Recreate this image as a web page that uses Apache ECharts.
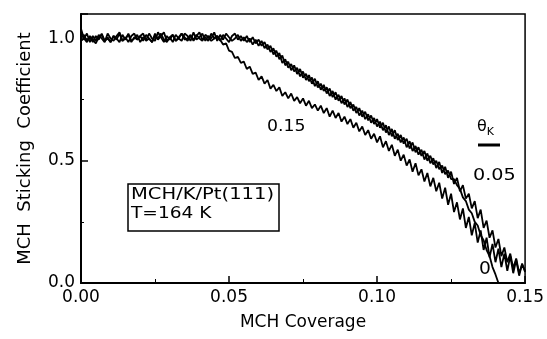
<!DOCTYPE html>
<html>
<head>
<meta charset="utf-8">
<script src="https://cdn.jsdelivr.net/npm/echarts@6/dist/echarts.min.js"></script>
<style>
html,body{margin:0;padding:0;background:#fff;}
#chart{width:547px;height:339px;}
</style>
</head>
<body>
<div id="chart"></div>
<script>
// MCH coverage sample points
const coverage = [
0.000,0.001,0.002,0.003,0.004,0.005,0.006,0.007,0.008,0.009,
0.010,0.011,0.012,0.013,0.014,0.015,0.016,0.017,0.018,0.019,
0.020,0.021,0.022,0.023,0.024,0.025,0.026,0.027,0.028,0.029,
0.030,0.031,0.032,0.033,0.034,0.035,0.036,0.037,0.038,0.039,
0.040,0.041,0.042,0.043,0.044,0.045,0.046,0.047,0.048,0.049,
0.050,0.051,0.052,0.053,0.054,0.055,0.056,0.057,0.058,0.059,
0.060,0.061,0.062,0.063,0.064,0.065,0.066,0.067,0.068,0.069,
0.070,0.071,0.072,0.073,0.074,0.075,0.076,0.077,0.078,0.079,
0.080,0.081,0.082,0.083,0.084,0.085,0.086,0.087,0.088,0.089,
0.090,0.091,0.092,0.093,0.094,0.095,0.096,0.097,0.098,0.099,
0.100,0.101,0.102,0.103,0.104,0.105,0.106,0.107,0.108,0.109,
0.110,0.111,0.112,0.113,0.114,0.115,0.116,0.117,0.118,0.119,
0.120,0.121,0.122,0.123,0.124,0.125,0.126,0.127,0.128,0.129,
0.130,0.131,0.132,0.133,0.134,0.135,0.136,0.137,0.138,0.139,
0.140,0.141,0.142,0.143,0.144,0.145,0.146,0.147,0.148,0.149,
0.150];

// theta_K = 0 (drops to zero at ~0.141)
const s_theta0 = [
1.0,1.015,0.99,1.005,0.985,1.01,0.995,1.02,0.99,1.005,
0.985,1.01,1.0,0.985,1.015,0.995,1.02,0.99,1.0,1.015,
0.985,1.005,0.995,1.02,1.0,0.99,1.025,1.005,0.985,1.01,
0.995,1.015,0.99,1.005,1.02,0.995,1.0,1.015,0.99,1.01,
1.025,0.995,1.005,0.99,1.02,1.0,1.01,0.99,1.015,1.0,
0.985,1.01,1.02,0.995,1.01,0.99,1.01,0.985,1.005,0.98,
0.995,0.97,0.985,0.955,0.97,0.935,0.95,0.915,0.93,0.89,
0.905,0.87,0.89,0.855,0.875,0.84,0.855,0.825,0.84,0.805,
0.825,0.79,0.81,0.775,0.795,0.76,0.78,0.745,0.765,0.73,
0.75,0.715,0.73,0.695,0.715,0.68,0.7,0.665,0.685,0.65,
0.67,0.635,0.655,0.615,0.64,0.6,0.625,0.585,0.605,0.57,
0.59,0.55,0.575,0.535,0.555,0.52,0.54,0.5,0.52,0.485,
0.5,0.465,0.48,0.445,0.46,0.425,0.425,0.4,0.385,0.35,
0.335,0.3,0.285,0.25,0.235,0.195,0.175,0.135,0.11,0.065,
0.035,0.0];

// theta_K = 0.05
const s_theta005 = [
0.99,1.0,1.02,0.985,1.01,0.99,1.015,1.0,0.985,1.02,
1.0,0.99,1.01,1.025,0.99,1.005,0.985,1.01,1.02,0.995,
1.01,0.99,1.015,1.0,0.985,1.02,0.995,1.01,1.025,0.99,
1.005,0.985,1.015,1.0,0.99,1.02,1.01,0.99,1.025,0.995,
1.005,1.02,0.99,1.01,1.0,1.025,0.99,1.015,0.995,1.02,
1.005,0.99,1.0,1.015,0.99,1.005,0.985,1.0,0.975,0.995,
0.97,0.99,0.96,0.975,0.945,0.96,0.925,0.94,0.9,0.915,
0.88,0.895,0.865,0.88,0.845,0.865,0.83,0.85,0.815,0.835,
0.8,0.815,0.785,0.8,0.765,0.785,0.75,0.77,0.735,0.755,
0.72,0.74,0.705,0.72,0.685,0.705,0.67,0.69,0.655,0.675,
0.64,0.66,0.625,0.645,0.605,0.63,0.59,0.61,0.575,0.595,
0.555,0.58,0.54,0.56,0.525,0.545,0.505,0.53,0.49,0.51,
0.47,0.495,0.45,0.475,0.43,0.455,0.405,0.43,0.375,0.4,
0.345,0.365,0.305,0.335,0.265,0.3,0.225,0.255,0.185,0.215,
0.145,0.18,0.11,0.145,0.085,0.12,0.06,0.1,0.04,0.075,
0.05];

// theta_K = 0.15
const s_theta015 = [
1.04,1.0,0.985,1.01,0.995,0.98,1.005,1.015,0.99,1.0,
0.985,1.01,0.995,1.02,0.99,1.0,1.015,0.985,1.005,0.995,
1.01,1.02,0.99,1.0,0.985,1.01,1.0,1.02,0.995,0.985,
1.005,1.015,0.99,1.0,1.02,1.005,0.99,1.01,0.995,1.015,
1.0,0.99,1.015,1.005,0.99,1.0,1.01,0.995,0.975,0.98,
0.95,0.945,0.92,0.925,0.9,0.905,0.875,0.885,0.855,0.86,
0.83,0.845,0.815,0.83,0.795,0.81,0.785,0.8,0.765,0.78,
0.755,0.775,0.745,0.76,0.735,0.755,0.725,0.745,0.715,0.73,
0.705,0.725,0.695,0.715,0.68,0.705,0.675,0.695,0.66,0.68,
0.65,0.67,0.635,0.655,0.62,0.64,0.605,0.625,0.59,0.61,
0.575,0.6,0.555,0.58,0.54,0.565,0.52,0.545,0.5,0.525,
0.48,0.505,0.455,0.49,0.44,0.465,0.415,0.45,0.395,0.43,
0.375,0.41,0.345,0.39,0.32,0.365,0.29,0.33,0.26,0.305,
0.225,0.27,0.195,0.245,0.165,0.215,0.135,0.185,0.105,0.16,
0.085,0.14,0.065,0.12,0.05,0.11,0.04,0.095,0.03,0.08,
0.045];

const xTicks = [0.00, 0.05, 0.10, 0.15];
const yTicks = [0.0, 0.5, 1.0];

const FONT = 'DejaVu Sans';

function pairs(vals){ return vals.map((v,i)=>[coverage[i], v]); }

function mk(name, vals){
  return {name:name, type:'line', data:pairs(vals), showSymbol:false, symbol:'none',
    lineStyle:{color:'#000', width:1.8}, itemStyle:{color:'#000'}, animation:false, z:3};
}

const chart = echarts.init(document.getElementById('chart'), null, {renderer:'canvas'});
chart.setOption({
  animation:false,
  backgroundColor:'#fff',
  grid:{left:81, right:20, top:14, bottom:56, show:true, borderColor:'#000', borderWidth:1.5, backgroundColor:'transparent'},
  xAxis:{
    type:'value', min:0, max:0.15, interval:0.05,
    name:'MCH Coverage', nameLocation:'middle', nameGap:31,
    nameTextStyle:{fontFamily:FONT, fontSize:17, color:'#000'},
    axisLine:{show:true, lineStyle:{color:'#000', width:2}},
    axisTick:{show:true, inside:true, length:7, lineStyle:{color:'#000', width:1.5}},
    minorTick:{show:true, splitNumber:2, length:4, lineStyle:{color:'#000', width:1}},
    splitLine:{show:false},
    axisLabel:{fontFamily:FONT, fontSize:17, color:'#000', margin:6,
      formatter:v => xTicks.some(t=>Math.abs(t-v)<1e-9) ? v.toFixed(2) : ''}
  },
  yAxis:{
    type:'value', min:0, max:1.1, interval:0.5,
    name:'MCH  Sticking  Coefficient', nameLocation:'middle', nameGap:47,
    nameTextStyle:{fontFamily:FONT, fontSize:18, color:'#000'},
    axisLine:{show:true, lineStyle:{color:'#000', width:2}},
    axisTick:{show:true, inside:true, length:7, lineStyle:{color:'#000', width:1.5}},
    minorTick:{show:true, splitNumber:2, length:3, lineStyle:{color:'#000', width:1}},
    splitLine:{show:false},
    axisLabel:{fontFamily:FONT, fontSize:17, color:'#000', margin:6, showMaxLabel:false,
      formatter:v => yTicks.some(t=>Math.abs(t-v)<1e-9) ? v.toFixed(1) : ''}
  },
  series:[
    mk('0', s_theta0),
    mk('0.05', s_theta005),
    mk('0.15', s_theta015)
  ],
  graphic:[
    {type:'rect', shape:{x:128, y:184, width:151, height:47}, style:{fill:'#fff', stroke:'#000', lineWidth:1.5}, z:10},
    {type:'text', x:131, y:187, scaleX:1.22, style:{text:'MCH/K/Pt(111)', fontFamily:FONT, fontSize:16, fill:'#000'}, z:11},
    {type:'text', x:131, y:206, scaleX:1.16, style:{text:'T=164 K', fontFamily:FONT, fontSize:16, fill:'#000'}, z:11},
    {type:'text', x:267, y:119, scaleX:1.08, style:{text:'0.15', fontFamily:FONT, fontSize:16, fill:'#000'}, z:11},
    {type:'text', x:473, y:168, scaleX:1.2, style:{text:'0.05', fontFamily:FONT, fontSize:16, fill:'#000'}, z:11},
    {type:'text', x:479, y:261, scaleX:1.1, style:{text:'0', fontFamily:FONT, fontSize:17, fill:'#000'}, z:11},
    {type:'text', x:477, y:119, style:{text:'{t|θ}{s|K}', rich:{t:{fontFamily:FONT, fontSize:16, fill:'#000', verticalAlign:'top'}, s:{fontFamily:FONT, fontSize:11, fill:'#000', padding:[8,0,0,0]}}}, z:11},
    {type:'line', shape:{x1:478, y1:145, x2:500, y2:145}, style:{stroke:'#000', lineWidth:3}, z:11}
  ]
});
</script>
</body>
</html>
